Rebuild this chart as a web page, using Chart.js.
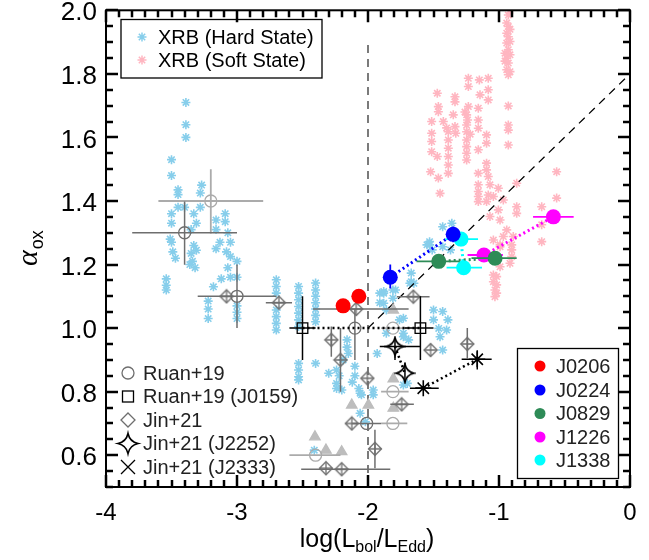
<!DOCTYPE html>
<html>
<head>
<meta charset="utf-8">
<script src="https://cdn.jsdelivr.net/npm/chart.js@4.4.0/dist/chart.umd.min.js"></script>
<style>
  html, body { margin: 0; padding: 0; background: #fff; }
  #wrap { width: 649px; height: 560px; }
</style>
</head>
<body>
<div id="wrap"><canvas id="chart" width="649" height="560"></canvas></div>
<script>
// Axis ticks
const xTickVals = [-4, -3, -2, -1, 0];
const yTickVals = [0.6, 0.8, 1.0, 1.2, 1.4, 1.6, 1.8, 2.0];
const xMinorStep = 0.1;
const yMinorStep = 0.05;

// XRB hard state [log Lbol/LEdd, alpha_ox]
const hardState = [
  [-3.39,1.71],[-3.39,1.64],[-3.39,1.60],[-3.50,1.53],[-3.50,1.48],[-3.45,1.435],[-3.45,1.42],
  [-3.27,1.45],[-3.28,1.425],[-3.45,1.38],[-3.50,1.36],[-3.50,1.33],[-3.40,1.38],[-3.33,1.36],
  [-3.28,1.38],[-3.31,1.33],[-3.35,1.31],[-3.51,1.28],[-3.50,1.27],[-3.49,1.24],[-3.47,1.22],
  [-3.33,1.26],[-3.35,1.235],[-3.31,1.245],[-3.36,1.20],[-3.32,1.19],[-3.34,1.21],[-3.16,1.34],
  [-3.09,1.36],[-3.09,1.335],[-3.16,1.31],[-3.07,1.30],[-3.13,1.27],[-3.05,1.27],[-3.16,1.25],
  [-3.08,1.24],[-3.05,1.225],[-3.00,1.21],[-3.07,1.19],[-3.05,1.16],[-3.12,1.155],[-3.00,1.16],
  [-3.18,1.13],[-3.54,1.155],[-3.54,1.135],[-3.54,1.12],[-3.22,1.085],[-3.22,1.06],[-3.22,1.03],
  [-3.00,1.07],[-3.00,1.05],[-3.00,1.03],
  [-2.70,1.152],[-2.70,1.131],[-2.70,1.110],[-2.70,1.057],[-2.70,1.036],[-2.70,1.015],[-2.70,0.994],
  [-2.53,1.131],[-2.53,1.110],[-2.53,1.089],[-2.53,1.068],[-2.53,1.047],[-2.53,1.026],[-2.53,1.005],
  [-2.53,0.889],[-2.53,0.868],[-2.53,0.847],[-2.53,0.837],
  [-2.40,1.142],[-2.40,1.12],[-2.40,1.10],[-2.40,1.08],[-2.40,1.06],[-2.40,1.04],[-2.40,1.02],
  [-2.40,0.889],[-2.30,0.858],
  [-2.16,0.963],[-2.16,0.94],[-2.15,0.92],[-2.10,0.88],[-2.10,0.85],[-2.24,0.868],[-2.24,0.826],
  [-2.20,0.805],[-2.06,0.795],[-1.96,0.805],[-2.22,0.85],[-2.19,0.90],[-2.12,0.83],[-2.07,0.81],
  [-2.24,0.81],[-2.05,0.79],[-1.96,0.79],[-2.06,0.732],[-2.02,0.705],[-2.41,0.616],[-1.73,0.821],
  [-1.91,1.11],[-1.91,1.08],[-1.76,1.026],[-1.73,0.984],[-1.93,0.92],[-1.86,0.984],[-1.70,0.826],
  [-1.67,1.173],[-1.67,1.146],[-1.88,1.11],[-1.88,1.078],[-1.79,1.12],[-1.50,1.057],[-1.43,1.052],
  [-1.39,1.026],[-1.50,1.026],[-1.46,0.999],[-1.45,0.973],[-1.40,0.994],[-1.73,1.031],[-1.73,0.973],
  [-1.69,0.963],[-1.43,0.931],[-1.65,1.141],[-1.53,1.262],[-1.43,1.256],[-1.86,1.057],
  [-1.43,1.319],[-1.36,1.33],[-1.53,1.272],[-1.51,1.246],[-1.55,1.262],[-1.37,1.246],
  [-1.68,1.141],[-1.88,1.115],[-1.81,1.12],[-1.81,1.094]
];

// XRB soft state
const softState = [
  [-0.916,2.00],[-0.941,1.96],[-0.929,1.949],[-0.941,1.928],[-0.929,1.917],[-0.916,1.902],
  [-0.941,1.897],[-0.929,1.876],[-0.954,1.865],[-0.916,1.86],[-0.941,1.849],[-0.929,1.834],
  [-0.941,1.813],[-0.916,1.807],[-0.929,1.797],[-0.954,1.84],[-0.916,1.94],[-0.929,1.985],
  [-0.929,1.699],[-0.929,1.639],[-0.929,1.623],[-0.929,1.576],
  [-1.471,1.739],[-1.463,1.697],[-1.463,1.681],[-1.514,1.65],[-1.514,1.613],[-1.514,1.587],
  [-1.514,1.555],[-1.471,1.54],[-1.522,1.492],[-1.463,1.472],[-1.45,1.424],
  [-1.425,1.65],[-1.387,1.618],[-1.387,1.592],[-1.387,1.566],[-1.387,1.54],[-1.387,1.513],
  [-1.387,1.487],[-1.40,1.63],
  [-1.336,1.728],[-1.336,1.712],[-1.349,1.671],[-1.336,1.634],[-1.33,1.613],
  [-1.234,1.786],[-1.234,1.76],[-1.234,1.697],[-1.247,1.671],[-1.247,1.639],[-1.247,1.618],
  [-1.247,1.592],[-1.247,1.571],[-1.247,1.55],[-1.247,1.529],[-1.26,1.68],[-1.22,1.61],[-1.24,1.655],
  [-1.15,1.781],[-1.082,1.786],[-1.082,1.75],[-1.145,1.734],[-1.082,1.718],[-1.158,1.692],
  [-1.158,1.655],[-1.158,1.629],[-1.095,1.608],[-1.095,1.582],[-1.158,1.561],[-1.095,1.519],
  [-1.095,1.498],[-1.082,1.477],[-1.158,1.487],[-1.158,1.451],[-1.069,1.451],[-1.005,1.44],
  [-0.865,1.456],[-0.56,1.492],[-0.56,1.409],[-1.158,1.414],[-1.082,1.419],
  [-1.158,1.43],[-1.095,1.398],[-1.043,1.414],[-1.158,1.398],
  [-0.967,1.403],[-0.865,1.382],[-0.865,1.361],[-0.674,1.382],[-0.674,1.325],[-0.674,1.272],
  [-1.005,1.372],[-1.069,1.351],[-0.992,1.34],[-0.941,1.309],[-0.891,1.288],[-0.967,1.288],
  [-0.992,1.262],[-0.903,1.246],[-0.903,1.225],[-1.043,1.277],[-1.056,1.22],[-0.992,1.193],
  [-1.043,1.167],[-1.043,1.146],[-1.031,1.12],[-1.031,1.099],[-0.916,1.204],[-1.018,1.162],
  [-1.018,1.136],[-1.018,1.11],[-0.903,1.262],[-0.992,1.256]
];

// AGN samples: [x, y, xlo, xhi, ylo, yhi]
const ruanLight = [
  [-3.20, 1.40, -3.60, -2.80, 1.298, 1.50],
  [-1.81, 1.00, -1.90, -1.70, null, null],
  [-1.81, 0.80, -1.90, -1.69, null, null],
  [-1.81, 0.70, -1.90, -1.70, null, null],
  [-2.40, 0.60, -2.60, -2.21, null, null]
];
const ruanDark = [
  [-3.40, 1.30, -3.80, -3.00, 1.199, 1.398],
  [-3.00, 1.10, -3.30, -2.70, 1.00, 1.20],
  [-2.10, 1.00, null, null, 0.90, 1.06],
  [-2.01, 0.70, -2.12, -1.90, null, null]
];
const jinDiamonds = [
  [-3.08, 1.10, null, null, null, null],
  [-2.68, 1.08, -2.78, -2.58, null, null],
  [-2.09, 1.06, -2.42, -1.69, null, null],
  [-2.28, 0.963, null, null, 0.91, 1.005],
  [-2.21, 0.90, null, null, 0.80, 1.00],
  [-2.005, 0.842, null, null, null, null],
  [-1.654, 1.099, -1.78, -1.53, null, null],
  [-1.522, 0.931, null, null, null, null],
  [-1.242, 0.95, null, null, 0.905, 1.00],
  [-1.743, 0.76, -1.83, -1.65, null, null],
  [-2.124, 0.70, null, null, null, null],
  [-1.947, 0.62, null, null, 0.559, 0.68],
  [-2.321, 0.559, null, null, null, null],
  [-2.201, 0.556, -2.51, -1.83, null, null]
];
const lowerLimits = [
  [-1.807, 1.057], [-1.807, 0.84], [-1.807, 0.748], [-1.997, 0.758],
  [-2.124, 0.758], [-2.405, 0.658], [-2.321, 0.616], [-2.201, 0.611]
];
const ruanJ0159 = [[-2.50, 1.00, -2.60, -2.40, 0.90, 1.10], [-1.60, 1.00, -1.72, -1.50, 0.90, 1.10]];
const jinJ2252 = [[-1.794, 0.942, -1.91, -1.60, 0.90, 0.97], [-1.718, 0.858, null, null, 0.83, 0.89]];
const jinJ2333 = [[-1.578, 0.811, -1.68, -1.46, null, null], [-1.166, 0.902, -1.285, -1.056, 0.87, 0.93]];

// Our sources
const j0206 = [[-2.19, 1.07, null, null, 1.055, 1.085], [-2.07, 1.10, null, null, 1.085, 1.115]];
const j0224 = [[-1.83, 1.16, null, null, 1.125, 1.20], [-1.35, 1.295, null, null, 1.27, 1.32]];
const j0829 = [[-1.46, 1.21, -1.63, -1.30, null, null], [-1.03, 1.22, -1.21, -0.865, null, null]];
const j1226 = [[-1.115, 1.23, -1.24, -0.97, null, null], [-0.585, 1.35, -0.74, -0.43, null, null]];
const j1338 = [[-1.29, 1.28, -1.41, -1.16, null, null], [-1.27, 1.19, -1.40, -1.13, null, null]];

// Reference lines
const refVertical = [[-2, 0.5], [-2, 1.9]];
const refDiagonal = [[-2, 1.0], [0, 1.8]];

const FONT = '"Liberation Sans", Arial, Helvetica, sans-serif';
const SKY = '#87ceeb', PINK = '#ffb6c1';
const LGRAY = '#ababab', DGRAY = '#6e6e6e';

const pts = arr => arr.map(p => ({ x: p[0], y: p[1], xlo: p[2], xhi: p[3], ylo: p[4], yhi: p[5] }));

// marker images
function marker(size, draw) {
  const c = document.createElement('canvas');
  c.width = c.height = size;
  const g = c.getContext('2d');
  g.translate(size / 2, size / 2);
  draw(g);
  return c;
}
function diamondPath(g, r) {
  g.beginPath();
  g.moveTo(0, -r); g.lineTo(r, 0); g.lineTo(0, r); g.lineTo(-r, 0); g.closePath();
}
function starPath(g, r) {
  const k = r * 0.18;
  g.beginPath();
  g.moveTo(0, -r);
  g.quadraticCurveTo(k, -k, r, 0);
  g.quadraticCurveTo(k, k, 0, r);
  g.quadraticCurveTo(-k, k, -r, 0);
  g.quadraticCurveTo(-k, -k, 0, -r);
  g.closePath();
}
const diamondPlus = marker(16, g => {
  g.strokeStyle = DGRAY; g.lineWidth = 1.3;
  diamondPath(g, 6.5); g.stroke();
  g.beginPath(); g.moveTo(0, -6.5); g.lineTo(0, 6.5); g.moveTo(-6.5, 0); g.lineTo(6.5, 0); g.stroke();
});
const star4 = marker(22, g => {
  g.strokeStyle = '#000'; g.lineWidth = 1.6;
  starPath(g, 9); g.stroke();
});

function pointSet(data, style, color, radius, extra) {
  return Object.assign({
    data: pts(data), pointStyle: style, pointRadius: radius,
    borderColor: color, backgroundColor: 'rgba(0,0,0,0)', pointBorderWidth: 1.3,
    showLine: false
  }, extra || {});
}
function lineSet(data, color, width, dash, order) {
  return {
    data: data.map(p => ({ x: p[0], y: p[1] })), showLine: true, pointRadius: 0,
    borderColor: color, borderWidth: width, borderDash: dash, fill: false, order: order
  };
}
function filledSet(data, color) {
  return {
    data: pts(data), pointStyle: 'circle', pointRadius: 7.5,
    backgroundColor: color, borderColor: color, pointBorderWidth: 0,
    showLine: false, errColor: color, errWidth: 1.8, order: 1
  };
}

// error bars drawn just before each dataset's points
const errorBars = {
  id: 'errorBars',
  beforeDatasetDraw(chart, args) {
    const ds = chart.data.datasets[args.index];
    if (!ds.errColor) return;
    const { ctx, chartArea: a, scales: { x, y } } = chart;
    ctx.save();
    ctx.beginPath(); ctx.rect(a.left, a.top, a.right - a.left, a.bottom - a.top); ctx.clip();
    ctx.strokeStyle = ds.errColor; ctx.lineWidth = ds.errWidth || 1.5;
    ds.data.forEach(p => {
      const px = x.getPixelForValue(p.x), py = y.getPixelForValue(p.y);
      ctx.beginPath();
      if (p.xlo != null) { ctx.moveTo(x.getPixelForValue(p.xlo), py); ctx.lineTo(x.getPixelForValue(p.xhi), py); }
      if (p.ylo != null) { ctx.moveTo(px, y.getPixelForValue(p.ylo)); ctx.lineTo(px, y.getPixelForValue(p.yhi)); }
      ctx.stroke();
    });
    ctx.restore();
  }
};

// IDL-like box with inward ticks on all four sides
const idlAxes = {
  id: 'idlAxes',
  afterDraw(chart) {
    const ctx = chart.ctx;
    const a = chart.chartArea;
    const xs = chart.scales.x, ys = chart.scales.y;
    const L = a.left, R = a.right, T = a.top, B = a.bottom;
    ctx.save();
    ctx.setLineDash([]);
    ctx.strokeStyle = '#000';
    ctx.lineWidth = 2.5;
    ctx.beginPath();
    for (let i = 0; i <= 40; i++) {
      const v = xs.min + i * xMinorStep;
      const px = Math.round(xs.getPixelForValue(v));
      const len = (i % 10 === 0) ? 12 : 7;
      ctx.moveTo(px, B); ctx.lineTo(px, B - len);
      ctx.moveTo(px, T); ctx.lineTo(px, T + len);
    }
    for (let i = 0; i <= 30; i++) {
      const v = ys.min + i * yMinorStep;
      const py = Math.round(ys.getPixelForValue(v));
      const len = (i % 4 === 2) ? 12 : 7;
      ctx.moveTo(L, py); ctx.lineTo(L + len, py);
      ctx.moveTo(R, py); ctx.lineTo(R - len, py);
    }
    ctx.stroke();
    ctx.lineWidth = 2;
    ctx.strokeRect(L, T, R - L, B - T);
    ctx.restore();
  }
};

function drawMarker(ctx, kind, cx, cy) {
  ctx.save();
  ctx.translate(cx, cy);
  ctx.lineWidth = 1.3;
  if (kind === 'star') {
    ctx.strokeStyle = ctx.fillStyle; ctx.lineWidth = 1.5;
    ctx.beginPath();
    for (let k = 0; k < 4; k++) {
      const t = k * Math.PI / 4;
      ctx.moveTo(-4.5 * Math.cos(t), -4.5 * Math.sin(t)); ctx.lineTo(4.5 * Math.cos(t), 4.5 * Math.sin(t));
    }
    ctx.stroke();
  } else if (kind === 'circle') {
    ctx.strokeStyle = DGRAY; ctx.beginPath(); ctx.arc(0, 0, 6, 0, 2 * Math.PI); ctx.stroke();
  } else if (kind === 'square') {
    ctx.strokeStyle = '#000'; ctx.strokeRect(-5.5, -5.5, 11, 11);
  } else if (kind === 'diamond') {
    ctx.strokeStyle = DGRAY; diamondPath(ctx, 7); ctx.stroke();
  } else if (kind === 'star4') {
    ctx.strokeStyle = '#000'; ctx.lineWidth = 1.6; starPath(ctx, 10); ctx.stroke();
  } else if (kind === 'x') {
    ctx.strokeStyle = '#000'; ctx.beginPath();
    ctx.moveTo(-7, -7); ctx.lineTo(7, 7); ctx.moveTo(-7, 7); ctx.lineTo(7, -7); ctx.stroke();
  } else if (kind === 'dot') {
    ctx.beginPath(); ctx.arc(0, 0, 5.5, 0, 2 * Math.PI); ctx.fill();
  }
  ctx.restore();
}

// legends and axis titles
const annotations = {
  id: 'annotations',
  afterDraw(chart) {
    const { ctx } = chart;
    ctx.save();
    ctx.textBaseline = 'middle';
    ctx.textAlign = 'left';
    ctx.font = '20px ' + FONT;

    // XRB legend (top left)
    ctx.strokeStyle = '#000'; ctx.lineWidth = 1.3;
    ctx.strokeRect(121, 19.5, 201, 58.5);
    [['XRB (Hard State)', SKY, 37], ['XRB (Soft State)', PINK, 60]].forEach(([t, c, yy]) => {
      ctx.fillStyle = c; drawMarker(ctx, 'star', 142, yy);
      ctx.fillStyle = '#000'; ctx.fillText(t, 158, yy + 1);
    });

    // comparison samples (bottom left, no frame)
    const rows = [['Ruan+19', 'circle'], ['Ruan+19 (J0159)', 'square'], ['Jin+21', 'diamond'],
                  ['Jin+21 (J2252)', 'star4'], ['Jin+21 (J2333)', 'x']];
    const rowY = [373, 396.5, 420, 443.5, 467];
    rows.forEach(([t, k], i) => {
      drawMarker(ctx, k, 128, rowY[i]);
      ctx.fillStyle = '#222'; ctx.fillText(t, 143, rowY[i] + 1);
    });

    // our sources (bottom right)
    ctx.fillStyle = '#fff';
    ctx.fillRect(517, 348, 101, 130);
    ctx.strokeStyle = '#000'; ctx.strokeRect(517.5, 348.5, 101, 130);
    const src = [['J0206', '#ff0000'], ['J0224', '#0000ff'], ['J0829', '#2e8b57'],
                 ['J1226', '#ff00ff'], ['J1338', '#00ffff']];
    const srcY = [366, 390, 413.5, 437, 460];
    src.forEach(([t, c], i) => {
      ctx.fillStyle = c; drawMarker(ctx, 'dot', 540, srcY[i]);
      ctx.fillStyle = '#222'; ctx.fillText(t, 556, srcY[i] + 1);
    });

    // x title: log(L_bol/L_Edd)
    ctx.textBaseline = 'alphabetic';
    const big = '25px ' + FONT, small = '16px ' + FONT;
    const parts = [['log(L', big, 0], ['bol', small, 5], ['/L', big, 0], ['Edd', small, 5], [')', big, 0]];
    let total = 0;
    parts.forEach(p => { ctx.font = p[1]; total += ctx.measureText(p[0]).width; });
    let cx = 367 - total / 2;
    ctx.fillStyle = '#000';
    parts.forEach(p => { ctx.font = p[1]; ctx.fillText(p[0], cx, 547 + p[2]); cx += ctx.measureText(p[0]).width; });

    // y title: alpha_ox
    ctx.translate(37, 266);
    ctx.rotate(-Math.PI / 2);
    ctx.font = 'italic 30px "Liberation Serif", "DejaVu Serif", serif';
    ctx.fillText('\u03b1', 0, 0);
    const w = ctx.measureText('\u03b1').width;
    ctx.font = '18px ' + FONT;
    ctx.fillText('ox', w + 1, 6);
    ctx.restore();
  }
};

const datasets = [
  // our sources on top
  filledSet(j0206, '#ff0000'),
  filledSet(j0224, '#0000ff'),
  filledSet(j0829, '#2e8b57'),
  filledSet(j1226, '#ff00ff'),
  filledSet(j1338, '#00ffff'),
  lineSet(j0224, '#0000ff', 3, [2, 3], 2),
  lineSet(j0829, '#2e8b57', 3, [2, 3], 2),
  lineSet(j1226, '#ff00ff', 3, [2, 3], 2),
  lineSet(j1338, '#00ffff', 3, [2, 3], 2),
  // black comparison objects
  pointSet(ruanJ0159, 'rect', '#000', 7.5, { errColor: '#000', errWidth: 1.5, order: 4 }),
  pointSet(jinJ2252, star4, '#000', 9, { errColor: '#000', errWidth: 1.5, order: 4 }),
  pointSet(jinJ2333, 'star', '#000', 8, { pointBorderWidth: 1.6, errColor: '#000', errWidth: 1.5, order: 4 }),
  lineSet(ruanJ0159, '#000', 2.5, [2, 3], 5),
  lineSet(jinJ2252, '#000', 2.5, [2, 3], 5),
  lineSet(jinJ2333, '#000', 2.5, [2, 3], 5),
  // gray comparison objects
  pointSet(jinDiamonds, diamondPlus, DGRAY, 7, { errColor: DGRAY, errWidth: 1.5, order: 8 }),
  pointSet(ruanDark, 'circle', DGRAY, 6, { errColor: DGRAY, errWidth: 1.5, order: 8 }),
  pointSet(ruanLight, 'circle', LGRAY, 6, { errColor: LGRAY, errWidth: 1.8, order: 9 }),
  pointSet(lowerLimits, 'triangle', '#bdbdbd', 6, { backgroundColor: '#bdbdbd', order: 9 }),
  // reference lines
  lineSet(refVertical, '#333', 1.3, [8, 6], 12),
  lineSet(refDiagonal, '#000', 1.3, [8, 6], 12),
  // XRBs
  pointSet(hardState, 'star', SKY, 4.5, { pointBorderWidth: 1.6, order: 19 }),
  pointSet(softState, 'star', PINK, 4.5, { pointBorderWidth: 1.6, order: 20 })
];

new Chart(document.getElementById('chart'), {
  type: 'scatter',
  data: { datasets: datasets },
  options: {
    responsive: false,
    animation: false,
    events: [],
    layout: { padding: { top: 10, right: 19, left: 0, bottom: 0 } },
    plugins: { legend: { display: false }, tooltip: { enabled: false } },
    scales: {
      x: {
        type: 'linear', min: -4, max: 0,
        grid: { display: false, drawTicks: false }, border: { display: false },
        afterBuildTicks: s => { s.ticks = xTickVals.map(v => ({ value: v })); },
        afterFit: s => { s.height = 73; s.paddingLeft = 0; s.paddingRight = 0; },
        ticks: { color: '#000', padding: 12, maxRotation: 0, font: { family: FONT, size: 24 },
                 callback: v => String(v) }
      },
      y: {
        type: 'linear', min: 0.5, max: 2.0,
        grid: { display: false, drawTicks: false }, border: { display: false },
        afterBuildTicks: s => { s.ticks = yTickVals.map(v => ({ value: v })); },
        afterFit: s => { s.width = 106; s.paddingTop = 0; s.paddingBottom = 0; },
        ticks: { color: '#000', padding: 9, labelOffset: 3, font: { family: FONT, size: 26 },
                 callback: v => Number(v).toFixed(1) }
      }
    }
  },
  plugins: [errorBars, idlAxes, annotations]
});
</script>
</body>
</html>
